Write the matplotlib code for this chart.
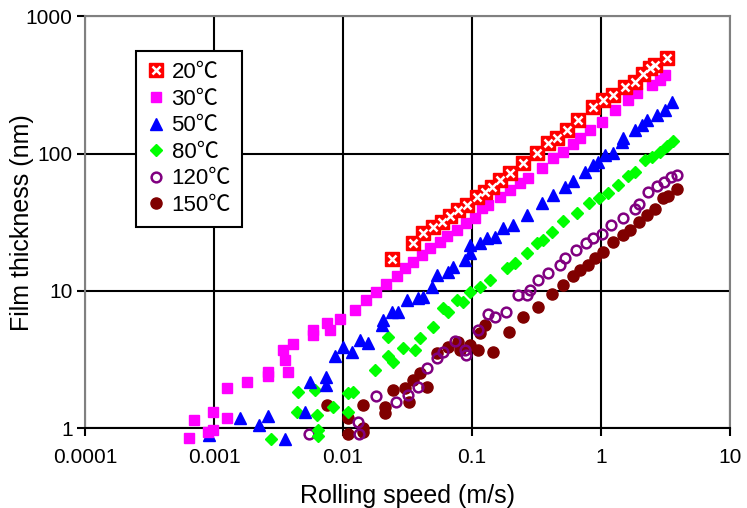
import matplotlib
matplotlib.use("Agg")
import matplotlib.pyplot as plt
from matplotlib.ticker import FixedLocator, FixedFormatter
from matplotlib.legend_handler import HandlerTuple

# Data (speed in m/s, film thickness in nm) =======================================================
speed_20 = [0.0240, 0.0349, 0.0417, 0.0499, 0.0585, 0.0675, 0.0779, 0.0914, 0.109, 0.126,
            0.143, 0.165, 0.197, 0.248, 0.319, 0.388, 0.456, 0.545, 0.663, 0.867,
            1.04, 1.24, 1.53, 1.83, 2.12, 2.40, 2.62, 3.25]
film_20 = [17.1, 22.3, 26.4, 29.2, 31.8, 35.1, 38.8, 42.2, 48.3, 52.5,
           57.1, 64.2, 72.1, 85.3, 101, 119, 130, 148, 175, 218,
           245, 266, 305, 331, 379, 419, 441, 495]

speed_30 = [0.00064, 0.00070, 0.000897, 0.000982, 0.000982, 0.00126, 0.00126, 0.00180, 0.00262, 0.00262,
            0.00375, 0.00355, 0.00343, 0.00410, 0.00585, 0.00585, 0.00751, 0.00792, 0.00948, 0.0124,
            0.0151, 0.0180, 0.0216, 0.0262, 0.0303, 0.0349, 0.0410, 0.0472, 0.0565, 0.0640,
            0.0765, 0.0898, 0.105, 0.120, 0.133, 0.165, 0.197, 0.236, 0.272, 0.349,
            0.425, 0.507, 0.607, 0.687, 0.822, 1.02, 1.28, 1.62, 1.90, 2.49,
            2.87, 3.13]
film_30 = [0.853, 1.15, 0.94, 1.32, 0.975, 1.19, 1.97, 2.18, 2.41, 2.58,
           2.58, 3.15, 3.72, 4.12, 4.79, 5.20, 5.85, 5.20, 6.26, 7.28,
           8.60, 9.85, 11.2, 12.9, 14.7, 16.3, 18.3, 20.5, 22.7, 25.1,
           27.8, 31.2, 34.0, 40.2, 42.2, 48.3, 54.3, 61.0, 66.3, 78.5,
           92.7, 103, 117, 130, 148, 169, 207, 245, 275, 315,
           343, 372]

speed_50 = [0.000914, 0.00159, 0.00223, 0.00262, 0.00355, 0.00507, 0.00555, 0.00738, 0.00738, 0.00867,
            0.0100, 0.0117, 0.0135, 0.0156, 0.0200, 0.0204, 0.0240, 0.0267, 0.0313, 0.0381,
            0.0417, 0.0490, 0.0536, 0.0652, 0.0713, 0.0883, 0.0965, 0.0965, 0.115, 0.131,
            0.151, 0.174, 0.208, 0.267, 0.349, 0.425, 0.526, 0.607, 0.751, 0.867,
            0.948, 1.07, 1.24, 1.45, 1.48, 1.83, 2.08, 2.27, 2.72, 3.13,
            3.55]
film_50 = [0.897, 1.19, 1.06, 1.23, 0.84, 1.32, 2.18, 2.37, 2.07, 3.37,
           3.91, 3.60, 4.40, 4.19, 5.66, 6.15, 7.03, 7.03, 8.60, 8.89,
           9.04, 10.7, 13.1, 13.7, 14.9, 16.8, 18.9, 21.6, 22.3, 24.3,
           24.7, 28.7, 30.2, 35.7, 43.7, 49.9, 57.1, 63.1, 73.3, 82.4,
           86.7, 97.5, 101, 121, 130, 148, 161, 175, 191, 207,
           237]

speed_80 = [0.00277, 0.00440, 0.00448, 0.00607, 0.00629, 0.00640, 0.00640, 0.00836, 0.0109, 0.0120,
            0.0109, 0.0177, 0.0223, 0.0223, 0.0244, 0.0292, 0.0361, 0.0395, 0.0499, 0.0596,
            0.0652, 0.0765, 0.0851, 0.0965, 0.115, 0.138, 0.187, 0.215, 0.267, 0.319,
            0.355, 0.417, 0.507, 0.652, 0.807, 0.965, 1.13, 1.35, 1.62, 1.83,
            2.19, 2.49, 2.87, 3.25, 3.61]
film_80 = [0.84, 1.32, 1.84, 1.91, 1.25, 0.975, 0.88, 1.43, 1.81, 1.84,
           1.32, 2.66, 4.63, 3.37, 3.05, 3.85, 3.72, 4.55, 5.47, 7.52,
           7.03, 8.60, 8.32, 9.84, 10.7, 12.0, 14.7, 16.0, 18.9, 22.3,
           23.5, 26.9, 32.3, 36.9, 43.7, 47.5, 51.6, 59.0, 68.6, 73.3,
           89.7, 94.4, 103, 114, 123]

speed_120 = [0.00545, 0.0131, 0.0133, 0.0180, 0.0258, 0.0319, 0.0381, 0.0448, 0.0536, 0.0596,
             0.0738, 0.0883, 0.0898, 0.111, 0.133, 0.151, 0.183, 0.227, 0.267, 0.282,
             0.325, 0.388, 0.481, 0.526, 0.640, 0.765, 0.867, 1.02, 1.20, 1.48,
             1.83, 1.97, 2.31, 2.72, 3.08, 3.49, 3.88]
film_120 = [0.912, 1.11, 0.912, 1.72, 1.56, 1.75, 2.00, 2.75, 3.26, 3.60,
            4.33, 3.72, 3.42, 5.20, 6.80, 6.47, 7.03, 9.35, 9.35, 10.2,
            12.0, 13.5, 15.5, 17.4, 19.9, 22.3, 24.3, 26.0, 30.2, 34.0,
            39.5, 42.9, 52.5, 58.0, 62.1, 67.5, 69.8]

speed_150 = [0.00751, 0.0109, 0.0109, 0.0143, 0.0143, 0.0143, 0.0212, 0.0212, 0.0244, 0.0303,
             0.0325, 0.0349, 0.0395, 0.0448, 0.0536, 0.0652, 0.0779, 0.0807, 0.0965, 0.111,
             0.115, 0.126, 0.146, 0.194, 0.248, 0.325, 0.417, 0.507, 0.607, 0.687,
             0.793, 0.898, 1.04, 1.24, 1.48, 1.68, 1.97, 2.27, 2.62, 3.03,
             3.31, 3.88]
film_150 = [1.48, 1.19, 0.912, 1.48, 1.01, 0.94, 1.43, 1.30, 1.91, 1.97,
            1.56, 2.25, 2.54, 2.00, 3.54, 3.91, 4.26, 3.72, 4.05, 3.72,
            4.95, 5.66, 3.60, 5.03, 6.47, 7.65, 9.51, 11.1, 12.9, 14.2,
            15.5, 17.4, 19.2, 22.7, 25.5, 27.8, 31.8, 35.7, 39.5, 47.5,
            49.1, 55.2]

x_ticks = [0.0001, 0.001, 0.01, 0.1, 1, 10]
x_tick_labels = ["0.0001", "0.001", "0.01", "0.1", "1", "10"]
y_ticks = [1, 10, 100, 1000]
y_tick_labels = ["1", "10", "100", "1000"]
labels = ["20℃", "30℃", "50℃", "80℃", "120℃", "150℃"]

# Figure ==========================================================================================
plt.rcParams['font.family'] = ['Liberation Sans', 'Noto Sans CJK JP', 'DejaVu Sans']

fig = plt.figure(figsize=(7.47, 5.08), dpi=100)
ax = fig.add_axes([0.1138, 0.1565, 0.8635, 0.812])
ax.set_xscale('log')
ax.set_yscale('log')
ax.set_xlim(1e-4, 10)
ax.set_ylim(1, 1000)

ax.grid(True, which='major', color='black', linewidth=1.5)
ax.set_axisbelow(True)

kw = dict(linestyle='none', clip_on=False)
h20a, = ax.plot(speed_20, film_20, marker='s', markersize=10, color='#FF0000', zorder=8, **kw)
h20b, = ax.plot(speed_20, film_20, marker='x', markersize=6, markeredgewidth=1.8,
                color='white', zorder=9, **kw)
h30, = ax.plot(speed_30, film_30, marker='s', markersize=7.5, color='#FF00FF', zorder=7, **kw)
h50, = ax.plot(speed_50, film_50, marker='^', markersize=8, color='#0000FF', zorder=6, **kw)
h80, = ax.plot(speed_80, film_80, marker='D', markersize=6, color='#00FF00', zorder=5, **kw)
h120, = ax.plot(speed_120, film_120, marker='o', markersize=7, markerfacecolor='none',
                markeredgewidth=1.8, markeredgecolor='#800080', zorder=4, **kw)
h150, = ax.plot(speed_150, film_150, marker='o', markersize=8, color='#800000', zorder=3, **kw)

ax.xaxis.set_major_locator(FixedLocator(x_ticks))
ax.xaxis.set_major_formatter(FixedFormatter(x_tick_labels))
ax.yaxis.set_major_locator(FixedLocator(y_ticks))
ax.yaxis.set_major_formatter(FixedFormatter(y_tick_labels))
ax.minorticks_off()
ax.tick_params(axis='both', which='major', labelsize=15, length=6, width=1.5,
               color='black', direction='out')
ax.tick_params(axis='x', pad=8)
ax.tick_params(axis='y', pad=3)

for side in ['top', 'right', 'left']:
    ax.spines[side].set_color('#808080')
    ax.spines[side].set_linewidth(1.5)
ax.spines['bottom'].set_color('black')
ax.spines['bottom'].set_linewidth(1.5)

ax.set_xlabel('Rolling speed (m/s)', fontsize=18, labelpad=12)
ax.set_ylabel('Film thickness (nm)', fontsize=18, va='center')
ax.yaxis.set_label_coords(-0.098, 0.5)

leg = ax.legend([(h20a, h20b), h30, h50, h80, h120, h150], labels,
                handler_map={tuple: HandlerTuple(ndivide=1)},
                loc='upper left', bbox_to_anchor=(0.079, 0.915), borderaxespad=0,
                prop={'family': ['Liberation Sans', 'Noto Sans CJK JP'], 'size': 16},
                frameon=True, fancybox=False, framealpha=1,
                edgecolor='black', handlelength=0.8, handletextpad=0.3,
                labelspacing=0.25, borderpad=0.5)
leg.get_frame().set_linewidth(1.5)
leg.set_zorder(20)

fig.savefig('out.png', dpi=100)
